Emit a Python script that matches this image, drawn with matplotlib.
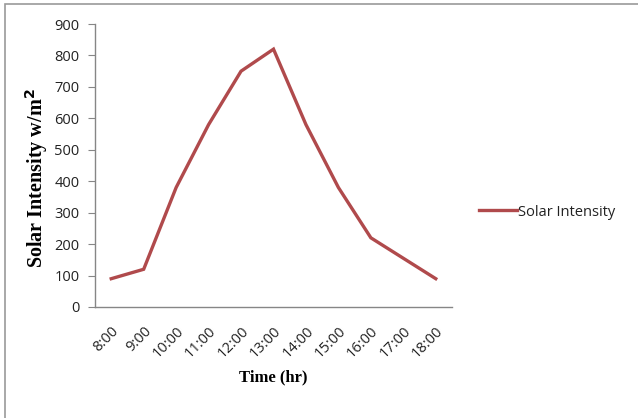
import matplotlib
matplotlib.use("Agg")
import matplotlib.pyplot as plt
from matplotlib.patches import Rectangle

# data
hours = ["8:00", "9:00", "10:00", "11:00", "12:00", "13:00",
         "14:00", "15:00", "16:00", "17:00", "18:00"]
intensity = [90, 120, 380, 580, 750, 820, 580, 380, 220, 155, 90]

line_color = "#B04A4C"
axis_color = "#868686"
text_color = "#222222"

fig = plt.figure(figsize=(6.38, 4.18), dpi=100)
W, H = 638, 418

# plot area in pixels: x 95..452, y 24..307
ax = fig.add_axes([95 / W, 1 - 307 / H, (452 - 95) / W, (307 - 24) / H])

x = range(len(hours))
ax.plot(x, intensity, color=line_color, linewidth=2.4, label="Solar Intensity",
        solid_joinstyle="miter")

ax.set_xlim(-0.5, len(hours) - 0.5)
ax.set_ylim(0, 900)
ax.set_yticks(range(0, 901, 100))
ax.set_xticks(list(x))
ax.set_xticklabels(hours, rotation=45, ha="right", va="top",
                   rotation_mode="anchor", family="Open Sans", fontsize=10.5)
for lbl in ax.get_yticklabels():
    lbl.set_family("Open Sans")
    lbl.set_fontsize(10.5)

for side in ("top", "right"):
    ax.spines[side].set_visible(False)
for side in ("left", "bottom"):
    ax.spines[side].set_color(axis_color)
    ax.spines[side].set_linewidth(1.0)

ax.tick_params(axis="y", direction="out", length=5, color=axis_color, pad=6,
               labelcolor=text_color)
ax.tick_params(axis="x", length=0, pad=12, labelcolor=text_color)

ax.set_xlabel("Time (hr)", family="Liberation Serif", fontweight="bold",
              fontsize=12, labelpad=6)
ax.set_ylabel("Solar Intensity w/m$^\\mathbf{2}$", family="Liberation Serif",
              fontweight="bold", fontsize=14.5)
ax.yaxis.set_label_coords(-0.126, 0.456)

leg = ax.legend(loc="center left", bbox_to_anchor=(466 / W, 1 - 212 / H),
                bbox_transform=fig.transFigure, frameon=False,
                handlelength=2.6, handletextpad=0.1,
                prop={"family": "Open Sans", "size": 10.5})
for t in leg.get_texts():
    t.set_color(text_color)

# thin grey frame around the whole chart
fig.patches.append(Rectangle((5 / W, -0.01), 1.0, 1 - 4 / H + 0.01,
                             transform=fig.transFigure, fill=False,
                             edgecolor="#9a9a9a", linewidth=1.2))

fig.savefig("out.png", dpi=100)
